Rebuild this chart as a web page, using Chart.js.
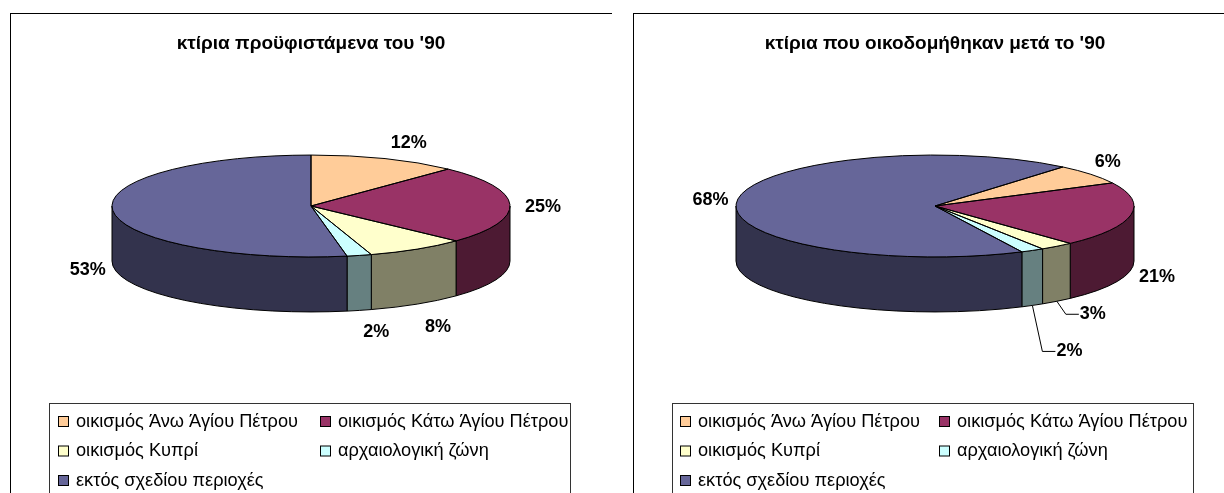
<!DOCTYPE html>
<html>
<head>
<meta charset="utf-8">
<title>κτίρια</title>
<script src="https://cdn.jsdelivr.net/npm/chart.js@4"></script>
<style>
  html, body { margin: 0; padding: 0; background: #fff; overflow: hidden; }
  body { position: relative; width: 1224px; height: 493px; }
  canvas { position: absolute; top: 13px; }
  #pie-before { left: 10px; }
  #pie-after { left: 633px; }
</style>
</head>
<body>
<canvas id="pie-before" width="602" height="480"></canvas>
<canvas id="pie-after" width="602" height="480"></canvas>
<script>
// data
const categories = [
  "οικισμός Άνω Άγίου Πέτρου",
  "οικισμός Κάτω Άγίου Πέτρου",
  "οικισμός Κυπρί",
  "αρχαιολογική ζώνη",
  "εκτός σχεδίου περιοχές"
];
const valuesBefore = [12.1, 24.9, 8.1, 2.0, 52.9];
const valuesAfter = [6.4, 20.6, 2.8, 1.9, 68.3];
const titleBefore = "κτίρια προϋφιστάμενα του '90";
const titleAfter = "κτίρια που οικοδομήθηκαν μετά το '90";

const topColors = ["#FFCC99", "#993366", "#FFFFCC", "#CCFFFF", "#666699"];
const wallColors = ["#806650", "#4D1A33", "#808066", "#668080", "#33334D"];

// look of the tilted pie
const FONT = "'Liberation Sans', Arial, sans-serif";
const RADIUS = 199;
const SQUASH = 0.256;
const DEPTH = 55;

// label offsets from the middle of each slice's rim, [dx, dy, leader line]
const labelsBefore = [[24, -16], [33, 2], [21, 23], [17, 22], [-25, 4]];
const labelsAfter = [[17, -12], [26, 7], [36, 13, true], [37, 46, true], [-27, 0]];

function drawWall(ctx, arc, color) {
  // only the part of the slice facing the viewer has a wall
  for (let n = -1; n <= 2; n++) {
    const a = Math.max(arc.startAngle + n * 2 * Math.PI, 0);
    const b = Math.min(arc.endAngle + n * 2 * Math.PI, Math.PI);
    if (b <= a) continue;
    ctx.beginPath();
    ctx.ellipse(arc.x, arc.y, RADIUS, RADIUS * SQUASH, 0, a, b);
    ctx.ellipse(arc.x, arc.y + DEPTH, RADIUS, RADIUS * SQUASH, 0, b, a, true);
    ctx.closePath();
    ctx.fillStyle = color;
    ctx.fill();
    ctx.stroke();
  }
}

const tiltPlugin = {
  id: "tilt",
  beforeDatasetsDraw(chart) {
    const ctx = chart.ctx;
    const arcs = chart.getDatasetMeta(0).data;
    ctx.save();
    ctx.strokeStyle = "#000";
    ctx.lineWidth = 1;
    arcs.forEach((arc, i) => drawWall(ctx, arc, wallColors[i]));
    ctx.restore();

    // the slices themselves are drawn by Chart.js, squashed into an ellipse
    ctx.save();
    ctx.translate(arcs[0].x, arcs[0].y);
    ctx.scale(1, SQUASH);
    ctx.translate(-arcs[0].x, -arcs[0].y);
  },
  afterDatasetsDraw(chart) {
    const ctx = chart.ctx;
    ctx.restore();
    ctx.save();
    ctx.strokeStyle = "#000";
    ctx.lineWidth = 1;
    ctx.lineJoin = "round";
    chart.getDatasetMeta(0).data.forEach((arc) => {
      ctx.beginPath();
      ctx.moveTo(arc.x, arc.y);
      ctx.ellipse(arc.x, arc.y, RADIUS, RADIUS * SQUASH, 0, arc.startAngle, arc.endAngle);
      ctx.closePath();
      ctx.stroke();
    });
    ctx.restore();
  }
};

const percentPlugin = {
  id: "percent",
  afterDraw(chart, args, opts) {
    const ctx = chart.ctx;
    const values = chart.data.datasets[0].data;
    const total = values.reduce((sum, v) => sum + v, 0);
    ctx.save();
    ctx.font = "bold 18px " + FONT;
    ctx.fillStyle = "#000";
    ctx.strokeStyle = "#000";
    ctx.lineWidth = 1;
    ctx.textAlign = "center";
    ctx.textBaseline = "middle";
    chart.getDatasetMeta(0).data.forEach((arc, i) => {
      const mid = (arc.startAngle + arc.endAngle) / 2;
      const rimX = arc.x + RADIUS * Math.cos(mid);
      let rimY = arc.y + RADIUS * SQUASH * Math.sin(mid);
      if (Math.sin(mid) > 0) rimY += DEPTH;
      const [dx, dy, leader] = opts.offsets[i];
      const x = rimX + dx;
      const y = rimY + dy;
      if (leader) {
        ctx.beginPath();
        ctx.moveTo(rimX, rimY);
        ctx.lineTo(x - 27, y);
        ctx.lineTo(x - 14, y);
        ctx.stroke();
      }
      ctx.fillText(Math.round(values[i] / total * 100) + "%", x, y);
    });
    ctx.restore();
  }
};

// the legend has aligned columns and is cut off at the bottom of the picture
const boxLegendPlugin = {
  id: "boxLegend",
  afterDraw(chart, args, opts) {
    const ctx = chart.ctx;
    const colX = [opts.swatch1, opts.swatch2];
    ctx.save();
    ctx.strokeStyle = "#000";
    ctx.lineWidth = 1;
    ctx.strokeRect(0.5, 0.5, chart.width + 20, chart.height + 20);
    ctx.strokeStyle = "#333";
    ctx.strokeRect(39.5, 390.5, 521, 120);
    ctx.font = "18.2px " + FONT;
    ctx.textBaseline = "middle";
    chart.data.labels.forEach((label, i) => {
      const x = colX[i % 2];
      const y = 408 + Math.floor(i / 2) * 29.5;
      ctx.fillStyle = topColors[i];
      ctx.fillRect(x + 0.5, y - 4.5, 10, 10);
      ctx.strokeStyle = "#000";
      ctx.strokeRect(x + 0.5, y - 4.5, 10, 10);
      ctx.fillStyle = "#000";
      ctx.fillText(label, x + 18, y + 0.5);
    });
    ctx.restore();
  }
};

function makePie(id, title, values, rotation, offsets, padLeft, swatch1, swatch2) {
  return new Chart(document.getElementById(id), {
    type: "pie",
    data: {
      labels: categories,
      datasets: [{
        data: values,
        backgroundColor: topColors,
        borderWidth: 0,
        radius: RADIUS,
        clip: false
      }]
    },
    options: {
      responsive: false,
      animation: false,
      events: [],
      rotation: rotation,
      layout: { padding: { left: padLeft, bottom: 142 } },
      plugins: {
        legend: { display: false },
        tooltip: { enabled: false },
        title: {
          display: true,
          text: title,
          color: "#000",
          font: { family: FONT, size: 19, weight: "bold" },
          padding: { top: 19, bottom: 6.2 }
        },
        percent: { offsets: offsets },
        boxLegend: { swatch1: swatch1, swatch2: swatch2 }
      }
    },
    plugins: [tiltPlugin, percentPlugin, boxLegendPlugin]
  });
}

makePie("pie-before", titleBefore, valuesBefore, 0, labelsBefore, 0, 48, 310);
makePie("pie-after", titleAfter, valuesAfter, 40, labelsAfter, 2, 47, 306);
</script>
</body>
</html>
